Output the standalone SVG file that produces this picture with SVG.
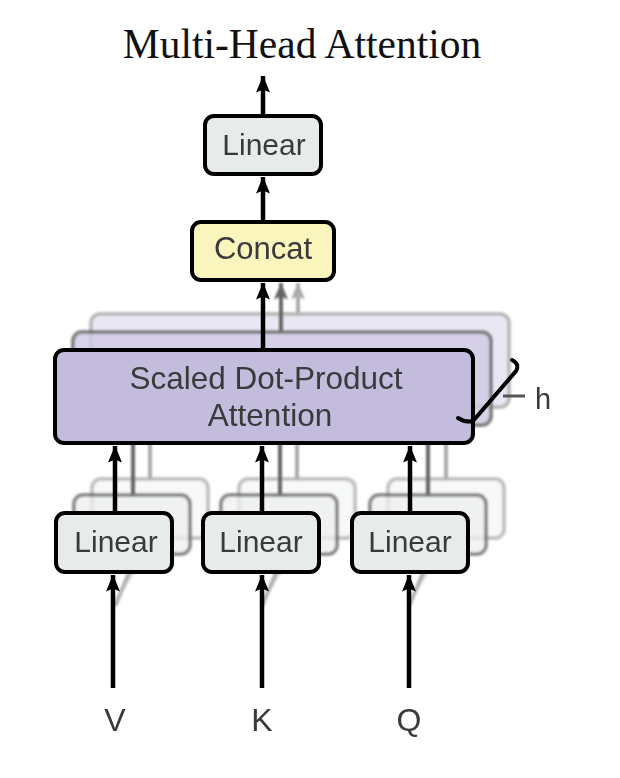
<svg xmlns="http://www.w3.org/2000/svg" width="620" height="778" viewBox="0 0 620 778">
<style>
.txt{font-family:"Liberation Sans","Helvetica",Arial,sans-serif;fill:#3a3a3a;text-anchor:middle}
.front{stroke:#000;stroke-width:4}
.lin{fill:#E7ECEA}
.att{fill:#C3BCDD}
.cat{fill:#FAF5BD}
.b2{fill:#EEF1F0;stroke:#6a6a6a;stroke-width:4;opacity:.75}
.b3{fill:#F4F6F5;stroke:#aaa;stroke-width:4;opacity:.7}
.a2{fill:#CFCAE4;stroke:#666;stroke-width:4;opacity:.8}
.a3{fill:#E4E1F0;stroke:#aaa;stroke-width:4;opacity:.8}
.c{fill:none;stroke:#000;stroke-width:4.5}
.g1{fill:none;stroke:#666;stroke-width:4}
.g2{fill:none;stroke:#aaa;stroke-width:4}
</style>
<defs>
<marker id="ah" viewBox="0 0 17 14" refX="16.5" refY="7" markerWidth="17" markerHeight="14" markerUnits="userSpaceOnUse" orient="auto"><path d="M0,0 L17,7 L0,14 L3,7 z" fill="#000"/></marker>
<marker id="ah1" viewBox="0 0 17 14" refX="16.5" refY="7" markerWidth="17" markerHeight="14" markerUnits="userSpaceOnUse" orient="auto"><path d="M0,0 L17,7 L0,14 L3,7 z" fill="#666"/></marker>
<marker id="ah2" viewBox="0 0 17 14" refX="16.5" refY="7" markerWidth="17" markerHeight="14" markerUnits="userSpaceOnUse" orient="auto"><path d="M0,0 L17,7 L0,14 L3,7 z" fill="#aaa"/></marker>
<filter id="bl" x="-10%" y="-10%" width="120%" height="120%"><feGaussianBlur stdDeviation="0.9"/></filter>
</defs>

<text x="302" y="58" font-family="'Liberation Serif','Times New Roman',serif" font-size="41.5" fill="#111" text-anchor="middle">Multi-Head Attention</text>

<g id="attention-back" filter="url(#bl)">
<rect class="a3" x="91" y="314" width="418" height="93" rx="9"/>
<rect class="a2" x="73" y="332" width="418" height="93" rx="9"/>
</g>

<g id="linear-back" filter="url(#bl)">
<rect class="b3" x="92" y="479" width="116" height="59" rx="9"/>
<rect class="b2" x="74" y="495" width="116" height="59" rx="9"/>
<rect class="b3" x="239" y="479" width="116" height="59" rx="9"/>
<rect class="b2" x="221" y="495" width="116" height="59" rx="9"/>
<rect class="b3" x="388" y="479" width="116" height="59" rx="9"/>
<rect class="b2" x="370" y="495" width="116" height="59" rx="9"/>
</g>

<g id="connectors">
<g filter="url(#bl)">
<path class="g2" d="M150,479 L150,443 M297,479 L297,443 M446,479 L446,443"/>
<path class="g1" d="M133,495 L133,443 M280,495 L280,443 M428,495 L428,443"/>
<path d="M115,606 L132,566 M262,606 L279,566 M409,606 L426,566" stroke="#777" stroke-width="4" opacity=".6"/>
<path d="M116,600 L141,560 M263,600 L288,560 M410,600 L435,560" stroke="#bbb" stroke-width="3" opacity=".5"/>
<path class="g2" d="M298,314 L298,283" marker-end="url(#ah2)"/>
<path class="g1" d="M281,332 L281,283" marker-end="url(#ah1)"/>
</g>
<path class="c" d="M263,350 L263,283" marker-end="url(#ah)"/>
<path class="c" d="M263,222 L263,177" marker-end="url(#ah)"/>
<path class="c" d="M263,115 L263,76" marker-end="url(#ah)"/>
<path class="c" d="M115,513 L115,446" marker-end="url(#ah)"/>
<path class="c" d="M262,513 L262,446" marker-end="url(#ah)"/>
<path class="c" d="M410,513 L410,446" marker-end="url(#ah)"/>
<path class="c" d="M113,688 L113,575" marker-end="url(#ah)"/>
<path class="c" d="M262,688 L262,575" marker-end="url(#ah)"/>
<path class="c" d="M409,688 L409,575" marker-end="url(#ah)"/>
</g>

<g id="attention">
<rect class="att front" x="55" y="350" width="418" height="93" rx="9"/>
<text class="txt" x="266" y="389" font-size="31.5">Scaled Dot-Product</text>
<text class="txt" x="270" y="426" font-size="31.5">Attention</text>
</g>

<g id="h-bracket">
<path d="M503,396 L525,396" stroke="#555" stroke-width="3"/>
<path d="M512,360 Q520,364 516,371 L473,421 Q466,423 458,418" fill="none" stroke="#000" stroke-width="4" stroke-linecap="round"/>
<text class="txt" x="543" y="409" font-size="29" fill="#444">h</text>
</g>

<g id="concat">
<rect class="cat front" x="192" y="222" width="142" height="58" rx="9"/>
<text class="txt" x="263" y="259" font-size="31">Concat</text>
</g>

<g id="linear-top">
<rect class="lin front" x="205" y="116" width="116" height="58" rx="9"/>
<text class="txt" x="264" y="155" font-size="30">Linear</text>
</g>

<g id="linear-v">
<rect class="lin front" x="56" y="513" width="116" height="59" rx="9"/>
<text class="txt" x="116" y="552" font-size="30">Linear</text>
</g>
<g id="linear-k">
<rect class="lin front" x="203" y="513" width="116" height="59" rx="9"/>
<text class="txt" x="261" y="552" font-size="30">Linear</text>
</g>
<g id="linear-q">
<rect class="lin front" x="352" y="513" width="116" height="59" rx="9"/>
<text class="txt" x="410" y="552" font-size="30">Linear</text>
</g>

<g id="inputs">
<text class="txt" x="115" y="731" font-size="32">V</text>
<text class="txt" x="262" y="731" font-size="32">K</text>
<text class="txt" x="409" y="731" font-size="32">Q</text>
</g>
</svg>
